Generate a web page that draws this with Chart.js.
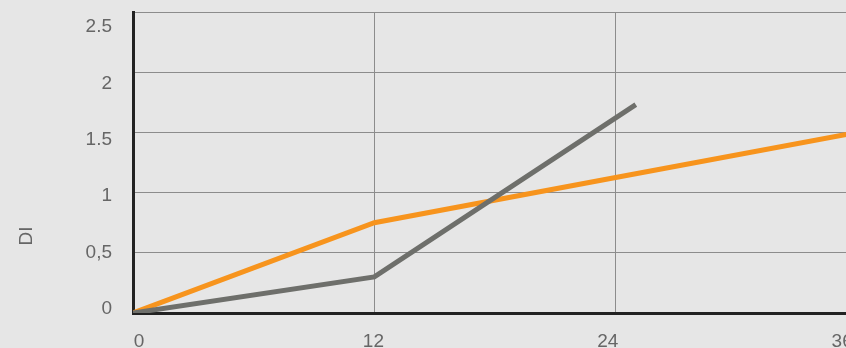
<!DOCTYPE html>
<html>
<head>
<meta charset="utf-8">
<script src="https://cdn.jsdelivr.net/npm/chart.js@4"></script>
<style>
  html, body { margin: 0; padding: 0; background: #e6e6e6; overflow: hidden; }
  #wrap { width: 870px; height: 348px; }
</style>
</head>
<body>
<div id="wrap"><canvas id="diChart"></canvas></div>
<script>
const months = [0, 12, 24, 36];
const orangeValues = [0, 0.75, 1.125, 1.5];
const grayMonths = [0, 12, 25];
const grayValues = [0, 0.3, 1.73];
const yTickValues = [0, 0.5, 1, 1.5, 2, 2.5];
const yTickLabels = ["0", "0,5", "1", "1.5", "2", "2.5"];
const xTickLabels = ["0", "12", "24", "36"];
const yTitle = "DI";

const toPoints = (xs, ys) => xs.map((x, i) => ({ x: x, y: ys[i] }));
const font = { family: "'Liberation Sans', Arial, sans-serif", size: 19 };

// draws the rotated axis title lower than chart.js would put it
const titlePlugin = {
    id: "diTitle",
    afterDraw(chart) {
        const ctx = chart.ctx;
        ctx.save();
        ctx.translate(27, 236);
        ctx.rotate(-Math.PI / 2);
        ctx.fillStyle = "#666";
        ctx.font = "19px 'Liberation Sans', Arial, sans-serif";
        ctx.textAlign = "center";
        ctx.textBaseline = "middle";
        ctx.fillText(yTitle, 0, 0);
        ctx.restore();
    }
};

const ctx = document.getElementById("diChart").getContext("2d");
const diChart = new Chart(ctx, {
    type: "line",
    data: {
        datasets: [{
            label: "gray",
            data: toPoints(grayMonths, grayValues),
            borderColor: "#6e6f6b",
            borderWidth: 5,
            pointRadius: 0,
            tension: 0
        }, {
            label: "orange",
            data: toPoints(months, orangeValues),
            borderColor: "#f7941d",
            borderWidth: 5,
            pointRadius: 0,
            tension: 0
        }]
    },
    options: {
        responsive: true,
        maintainAspectRatio: false,
        animation: false,
        layout: { padding: { top: 12, right: 13, left: 0, bottom: 0 } },
        plugins: {
            legend: { display: false },
            tooltip: { enabled: false }
        },
        scales: {
            // grid axes
            x: {
                type: "linear",
                min: 0,
                max: 36,
                weight: 0,
                afterFit: s => { s.height = 0; s.paddingLeft = 0; s.paddingRight = 0; },
                ticks: { stepSize: 12, display: false },
                grid: { color: "#8c8c8c", lineWidth: 1, drawTicks: false },
                border: { color: "#222", width: 3 }
            },
            y: {
                min: 0,
                max: 2.5,
                weight: 0,
                afterFit: s => { s.width = 0; s.paddingTop = 0; s.paddingBottom = 0; },
                ticks: { stepSize: 0.5, display: false },
                grid: { color: "#8c8c8c", lineWidth: 1, drawTicks: false },
                border: { color: "#222", width: 3 }
            },
            // label axes: the original's tick labels sit a bit off the grid lines
            x2: {
                type: "linear",
                position: "bottom",
                min: -0.31,
                max: 36.76,
                weight: 1,
                afterBuildTicks: s => { s.ticks = months.map(v => ({ value: v })); },
                afterFit: s => { s.height = 35; s.paddingLeft = 0; s.paddingRight = 0; },
                ticks: {
                    padding: 17,
                    color: "#666",
                    maxRotation: 0,
                    autoSkip: false,
                    font: font,
                    callback: (v, i) => xTickLabels[i]
                },
                grid: { display: false, drawTicks: false },
                border: { display: false }
            },
            y2: {
                position: "left",
                min: -0.035,
                max: 2.633,
                weight: 1,
                afterBuildTicks: s => { s.ticks = yTickValues.map(v => ({ value: v })); },
                afterFit: s => { s.width = 133; s.paddingTop = 0; s.paddingBottom = 0; },
                ticks: {
                    padding: 21,
                    color: "#666",
                    autoSkip: false,
                    font: font,
                    callback: (v, i) => yTickLabels[i]
                },
                grid: { display: false, drawTicks: false },
                border: { display: false }
            }
        }
    },
    plugins: [titlePlugin]
});
</script>
</body>
</html>
